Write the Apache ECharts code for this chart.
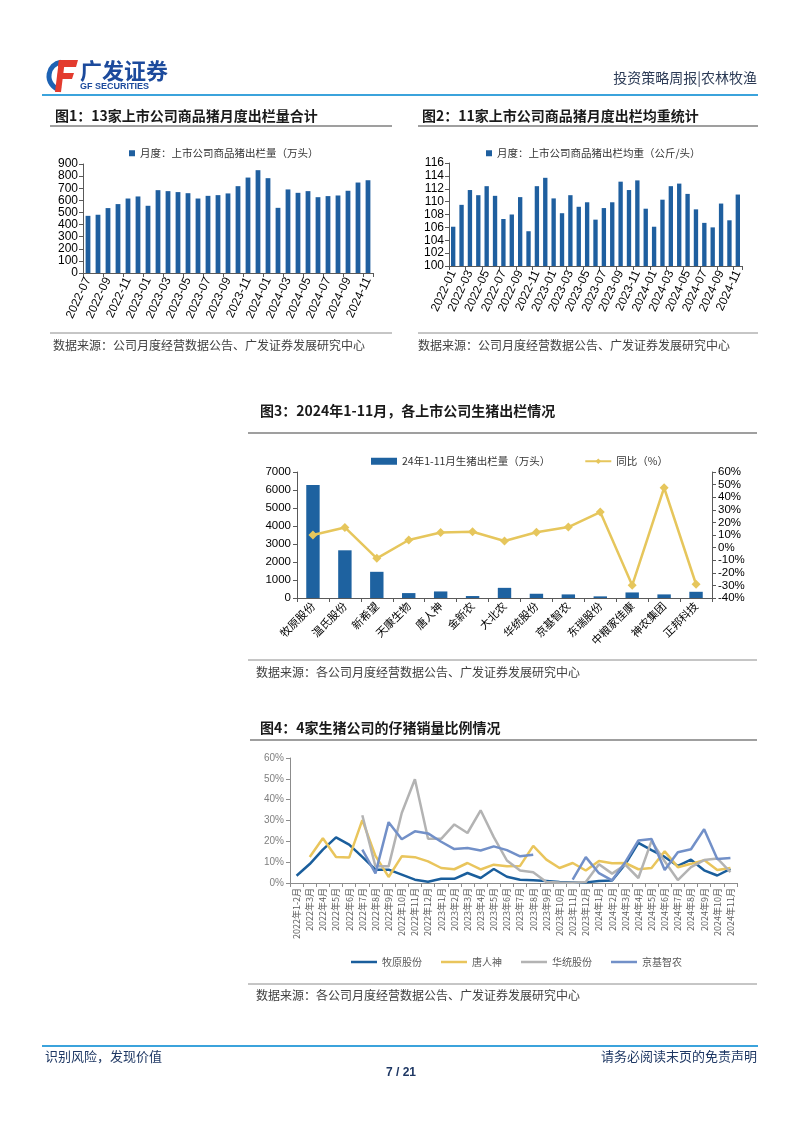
<!DOCTYPE html>
<html>
<head>
<meta charset="utf-8">
<script src="https://cdn.jsdelivr.net/npm/echarts@6/dist/echarts.min.js"></script>
<style>
  html, body { margin: 0; padding: 0; background: #fff; }
  #page { width: 802px; height: 1133px; }
</style>
</head>
<body>
<div id="page"></div>
<script>
// 图1 数据：13家上市公司商品猪月度出栏量（万头）
const months1 = ['2022-07','2022-08','2022-09','2022-10','2022-11','2022-12',
  '2023-01','2023-02','2023-03','2023-04','2023-05','2023-06','2023-07','2023-08','2023-09','2023-10','2023-11','2023-12',
  '2024-01','2024-02','2024-03','2024-04','2024-05','2024-06','2024-07','2024-08','2024-09','2024-10','2024-11'];
const volume1 = [472,481,536,569,615,632,555,684,676,668,659,615,637,643,657,717,788,849,783,538,690,662,676,626,635,640,679,747,766];

// 图2 数据：11家上市公司商品猪出栏均重（公斤/头）
const months2 = ['2022-01','2022-02','2022-03','2022-04','2022-05','2022-06','2022-07','2022-08','2022-09','2022-10','2022-11','2022-12',
  '2023-01','2023-02','2023-03','2023-04','2023-05','2023-06','2023-07','2023-08','2023-09','2023-10','2023-11','2023-12',
  '2024-01','2024-02','2024-03','2024-04','2024-05','2024-06','2024-07','2024-08','2024-09','2024-10','2024-11'];
const weight2 = [106.1,109.5,111.8,111.0,112.4,110.9,107.3,108.0,110.7,105.4,112.4,113.7,
  110.5,108.2,111.0,109.2,109.9,107.2,109.0,109.9,113.1,111.8,113.3,108.9,
  106.1,110.3,112.4,112.8,111.2,108.8,106.7,106.0,109.7,107.1,111.1];

// 图3 数据：2024年1-11月各公司生猪出栏
const companies3 = ['牧原股份','温氏股份','新希望','天康生物','唐人神','金新农','大北农','华统股份','京基智农','东瑞股份','中粮家佳康','神农集团','正邦科技'];
const output3 = [6280,2650,1455,273,364,109,564,236,200,91,309,200,345];
const yoy3 = [10,16,-8.5,6,12,12.6,5.2,12.2,16.3,28.2,-29.9,47.5,-29.1];

// 图4 数据：仔猪销量比例（%）
const months4 = ['2022年1-2月','2022年3月','2022年4月','2022年5月','2022年6月','2022年7月','2022年8月','2022年9月','2022年10月','2022年11月','2022年12月',
  '2023年1月','2023年2月','2023年3月','2023年4月','2023年5月','2023年6月','2023年7月','2023年8月','2023年9月','2023年10月','2023年11月','2023年12月',
  '2024年1月','2024年2月','2024年3月','2024年4月','2024年5月','2024年6月','2024年7月','2024年8月','2024年9月','2024年10月','2024年11月'];
const muyuan4 = [3.5,9.1,16,21.9,18.4,12.5,6.4,6.4,4.0,1.6,0.6,2.0,2.0,4.8,2.4,6.7,3.0,1.6,1.3,1.0,0.5,0.3,0.3,1.0,1.2,9.0,19.3,15.8,12.5,8.2,11.2,6.1,3.6,6.8];
const tangrenshen4 = [null,12.5,21.5,12.5,12.2,30.2,13,2.9,12.8,12.4,10.4,7.2,6.6,9.6,6.5,8.8,8.0,8.2,17.8,11.2,7.2,9.6,6.0,10.6,9.5,9.6,6.6,7.2,15.2,7.6,9.2,11.0,6.2,7.2];
const huatong4 = [null,null,null,null,null,32.5,8,8,33.6,49.8,21.2,21.2,28.1,24,34.9,22,10.8,6.0,5.2,0.5,0.2,0.1,0.5,9.0,4.5,8.8,2.4,20.2,10.4,1.4,7.6,11.0,11.8,5.2];
const jingji4 = [null,null,null,null,null,16,4.6,29.2,21,24.8,23.8,19.8,16.3,16.8,15.6,17.6,15.8,12.8,13.6,null,null,1.6,12.4,4.7,1.3,10,20.4,21.1,6.2,14.8,16.2,25.8,11.5,12];

const LAT = '"Liberation Sans", "Noto Sans CJK SC", sans-serif';
const CJK = '"Noto Sans CJK SC", sans-serif';
const BAR_BLUE = '#1F5F9F';
const AXIS_DARK = '#595959';
const AXIS_GREY = '#8c8c8c';

// 文本与线条
function txt(x, y, s, font, fill, align) {
  return { type: 'text', x: x, y: y, silent: true,
    style: { text: s, font: font, fill: fill || '#000', textAlign: align || 'left', textVerticalAlign: 'middle' } };
}
function hline(x1, x2, y, color, w) {
  return { type: 'line', silent: true, shape: { x1: x1, y1: y, x2: x2, y2: y }, style: { stroke: color, lineWidth: w } };
}

const graphics = [
  // logo
  { type: 'arc', silent: true, shape: { cx: 63, cy: 76, r: 14, startAngle: Math.PI * 0.55, endAngle: Math.PI * 1.45 },
    style: { stroke: '#1d62b4', lineWidth: 5, fill: null } },
  { type: 'polygon', silent: true, shape: { points: [[59,60],[78,60],[76,67],[58,67]] }, style: { fill: '#e33b2e' } },
  { type: 'polygon', silent: true, shape: { points: [[59,60],[65,60],[61,92],[55,92]] }, style: { fill: '#e33b2e' } },
  { type: 'polygon', silent: true, shape: { points: [[58,73],[74,73],[72,79],[57,79]] }, style: { fill: '#e33b2e' } },
  txt(80, 71, '广发证券', 'bold 22px ' + CJK, '#1c4a9c'),
  txt(80, 87, 'GF SECURITIES', 'bold 9px ' + LAT, '#1c4a9c'),
  txt(757, 78, '投资策略周报|农林牧渔', '14px ' + CJK, '#2b3a55', 'right'),
  hline(42, 758, 95, '#3ba3dc', 2),

  // 标题
  txt(55, 116, '图1：13家上市公司商品猪月度出栏量合计', 'bold 14px ' + CJK, '#1a1a1a'),
  hline(50, 392, 126, '#7f7f7f', 1.5),
  txt(422, 116, '图2：11家上市公司商品猪月度出栏均重统计', 'bold 14px ' + CJK, '#1a1a1a'),
  hline(418, 758, 126, '#7f7f7f', 1.5),
  hline(50, 392, 333, '#8c8c8c', 1),
  txt(53, 345, '数据来源：公司月度经营数据公告、广发证券发展研究中心', '12px ' + CJK, '#404040'),
  hline(418, 758, 333, '#8c8c8c', 1),
  txt(418, 345, '数据来源：公司月度经营数据公告、广发证券发展研究中心', '12px ' + CJK, '#404040'),

  txt(260, 411, '图3：2024年1-11月，各上市公司生猪出栏情况', 'bold 14px ' + CJK, '#1a1a1a'),
  hline(248, 757, 433, '#7f7f7f', 1.5),
  hline(248, 757, 660, '#8c8c8c', 1),
  txt(256, 672, '数据来源：各公司月度经营数据公告、广发证券发展研究中心', '12px ' + CJK, '#404040'),

  txt(260, 728, '图4：4家生猪公司的仔猪销量比例情况', 'bold 14px ' + CJK, '#1a1a1a'),
  hline(250, 757, 740, '#7f7f7f', 1.5),
  hline(248, 757, 984, '#8c8c8c', 1),
  txt(256, 995, '数据来源：各公司月度经营数据公告、广发证券发展研究中心', '12px ' + CJK, '#404040'),

  // 页脚
  hline(42, 758, 1046, '#3ba3dc', 2),
  txt(45, 1056, '识别风险，发现价值', '13px ' + CJK, '#1f3864'),
  txt(757, 1056, '请务必阅读末页的免责声明', '13px ' + CJK, '#1f3864', 'right'),
  txt(401, 1073, '7 / 21', 'bold 12px ' + LAT, '#1f3864', 'center')
];

function catAxis(grid, data, extra) {
  return Object.assign({
    type: 'category', gridIndex: grid, data: data,
    axisLine: { show: true, onZero: false, lineStyle: { color: AXIS_DARK, width: 1 } },
    axisTick: { show: true, lineStyle: { color: AXIS_DARK } },
    splitLine: { show: false }
  }, extra);
}
function valAxis(grid, min, max, step, extra) {
  return Object.assign({
    type: 'value', gridIndex: grid, min: min, max: max, interval: step,
    axisLine: { show: true, lineStyle: { color: AXIS_DARK, width: 1 } },
    axisTick: { show: true, length: 4, lineStyle: { color: AXIS_DARK } },
    splitLine: { show: false },
    axisLabel: { color: '#000', fontSize: 12, fontFamily: LAT, margin: 5, formatter: v => String(v) }
  }, extra);
}

const chart = echarts.init(document.getElementById('page'), null, { renderer: 'canvas' });

chart.setOption({
  animation: false,
  backgroundColor: '#fff',
  textStyle: { fontFamily: LAT },
  graphic: graphics,
  grid: [
    { left: 83, top: 164, width: 290, height: 109 },
    { left: 449, top: 163, width: 293, height: 103 },
    { left: 297, top: 472, width: 415, height: 126 },
    { left: 290, top: 758, width: 447, height: 125 }
  ],
  legend: [
    { data: ['月度：上市公司商品猪出栏量（万头）'], left: 124, top: 143, icon: 'rect', itemWidth: 6, itemHeight: 6, itemGap: 4,
      textStyle: { fontSize: 10.5, color: '#333', fontFamily: CJK } },
    { data: ['月度：上市公司商品猪出栏均重（公斤/头）'], left: 481, top: 143, icon: 'rect', itemWidth: 6, itemHeight: 6,
      textStyle: { fontSize: 10.5, color: '#333', fontFamily: CJK } },
    { data: [{ name: '24年1-11月生猪出栏量（万头）', icon: 'rect' }, { name: '同比（%）' }], left: 366, top: 451,
      itemWidth: 26, itemHeight: 7, itemGap: 34, textStyle: { fontSize: 10.5, color: '#333', fontFamily: CJK } },
    { data: ['牧原股份','唐人神','华统股份','京基智农'], left: 346, top: 952, icon: 'rect', itemWidth: 26, itemHeight: 2.5, itemGap: 19,
      textStyle: { fontSize: 10, color: '#595959', fontFamily: CJK } }
  ],
  xAxis: [
    catAxis(0, months1, { axisTick: { show: true, interval: 1, length: 4, lineStyle: { color: AXIS_DARK } },
      axisLabel: { interval: 1, rotate: 65, fontSize: 12, color: '#000', fontFamily: LAT, margin: 5 } }),
    catAxis(1, months2, { axisTick: { show: true, interval: 1, length: 4, lineStyle: { color: AXIS_DARK } },
      axisLabel: { interval: 1, rotate: 65, fontSize: 12, color: '#000', fontFamily: LAT, margin: 5 } }),
    catAxis(2, companies3, { axisTick: { show: true, interval: 0, length: 4, lineStyle: { color: AXIS_DARK } },
      axisLabel: { interval: 0, rotate: 45, fontSize: 11, color: '#000', fontFamily: CJK, margin: 6 } }),
    catAxis(3, months4, {
      axisLine: { show: true, onZero: false, lineStyle: { color: AXIS_GREY, width: 1 } },
      axisTick: { show: true, interval: 0, length: 4, lineStyle: { color: AXIS_GREY } },
      axisLabel: { interval: 0, rotate: 90, fontSize: 9, color: '#595959', fontFamily: CJK, margin: 5 } })
  ],
  yAxis: [
    valAxis(0, 0, 900, 100),
    valAxis(1, 100, 116, 2),
    valAxis(2, 0, 7000, 1000, { axisLabel: { color: '#000', fontSize: 11.5, fontFamily: LAT, margin: 6, formatter: v => String(v) } }),
    valAxis(2, -40, 60, 10, { position: 'right',
      axisLabel: { color: '#000', fontSize: 11.5, fontFamily: LAT, margin: 6, formatter: '{value}%' } }),
    valAxis(3, 0, 60, 10, {
      axisLine: { show: true, lineStyle: { color: AXIS_GREY, width: 1 } },
      axisTick: { show: true, length: 4, lineStyle: { color: AXIS_GREY } },
      axisLabel: { color: '#7f7f7f', fontSize: 10, fontFamily: LAT, margin: 6, formatter: '{value}%' } })
  ],
  series: [
    { name: '月度：上市公司商品猪出栏量（万头）', type: 'bar', xAxisIndex: 0, yAxisIndex: 0,
      data: volume1, barCategoryGap: '52%', itemStyle: { color: BAR_BLUE } },
    { name: '月度：上市公司商品猪出栏均重（公斤/头）', type: 'bar', xAxisIndex: 1, yAxisIndex: 1,
      data: weight2, barCategoryGap: '48%', itemStyle: { color: BAR_BLUE } },
    { name: '24年1-11月生猪出栏量（万头）', type: 'bar', xAxisIndex: 2, yAxisIndex: 2,
      data: output3, barCategoryGap: '58%', itemStyle: { color: '#1E62A0' } },
    { name: '同比（%）', type: 'line', xAxisIndex: 2, yAxisIndex: 3, data: yoy3,
      symbol: 'diamond', symbolSize: 9, itemStyle: { color: '#E6C65C' }, lineStyle: { color: '#E6C65C', width: 2.5 } },
    { name: '牧原股份', type: 'line', xAxisIndex: 3, yAxisIndex: 4, data: muyuan4, symbol: 'none', connectNulls: false,
      itemStyle: { color: '#1A5E9C' }, lineStyle: { color: '#1A5E9C', width: 2.5 } },
    { name: '唐人神', type: 'line', xAxisIndex: 3, yAxisIndex: 4, data: tangrenshen4, symbol: 'none', connectNulls: false,
      itemStyle: { color: '#E9C55C' }, lineStyle: { color: '#E9C55C', width: 2.5 } },
    { name: '华统股份', type: 'line', xAxisIndex: 3, yAxisIndex: 4, data: huatong4, symbol: 'none', connectNulls: false,
      itemStyle: { color: '#B3B3B3' }, lineStyle: { color: '#B3B3B3', width: 2.5 } },
    { name: '京基智农', type: 'line', xAxisIndex: 3, yAxisIndex: 4, data: jingji4, symbol: 'none', connectNulls: false,
      itemStyle: { color: '#7290C8' }, lineStyle: { color: '#7290C8', width: 2.5 } }
  ]
});
</script>
</body>
</html>
